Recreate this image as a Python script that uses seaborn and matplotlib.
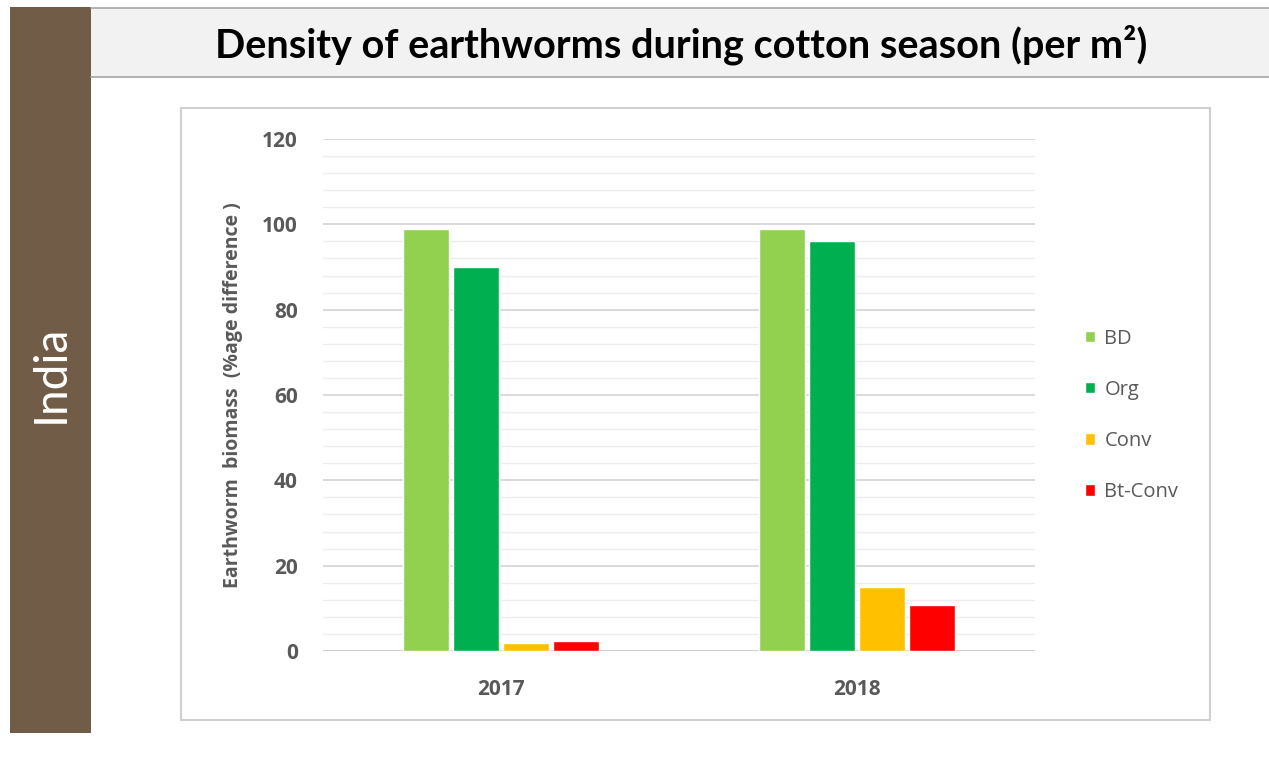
import matplotlib
matplotlib.use("Agg")
import matplotlib.pyplot as plt
from matplotlib.patches import Rectangle
from matplotlib.lines import Line2D
import seaborn as sns
import pandas as pd
import numpy as np

# Earthworm biomass by cotton system and season
years = ["2017", "2018"]
systems = ["BD", "Org", "Conv", "Bt-Conv"]
bd = [99, 99]
org = [90, 96]
conv = [1.8, 15]
bt_conv = [2.3, 10.8]
colors = ["#92D050", "#00B050", "#FFC000", "#FF0000"]

df = pd.DataFrame({
    "year": years * 4,
    "system": [s for s in systems for _ in years],
    "value": bd + org + conv + bt_conv,
})

sns.set_theme(style="white")
plt.rcParams["font.family"] = ["Open Sans", "DejaVu Sans"]

W, H = 1269, 764
fig = plt.figure(figsize=(W / 100, H / 100), dpi=100)
fig.patch.set_facecolor("white")

def fx(x):
    return x / W

def fy(y):
    return 1 - y / H

# Brown side panel with region name
fig.patches.append(Rectangle((fx(10), fy(733)), fx(81), (733 - 7) / H,
                             transform=fig.transFigure, facecolor="#715C48",
                             edgecolor="none", zorder=-2))
fig.text(fx(51), fy(374), "India", rotation=90, color="white", fontsize=33,
         family=["Lato", "DejaVu Sans"], ha="center", va="center")

# Header band
fig.patches.append(Rectangle((fx(91), fy(77)), fx(1269 - 91), (77 - 8) / H,
                             transform=fig.transFigure, facecolor="#F2F2F2",
                             edgecolor="none", zorder=-2))
for yy in (8, 77):
    fig.add_artist(Line2D([fx(91), 1], [fy(yy), fy(yy)], color="#A6A6A6",
                          linewidth=1.2, transform=fig.transFigure, zorder=-1))
fig.text(fx(681), fy(45), "Density of earthworms during cotton season (per m²)",
         fontsize=28.5, fontweight="bold", color="black",
         family=["Lato", "DejaVu Sans"], ha="center", va="center")

# Chart frame
fig.patches.append(Rectangle((fx(181), fy(720)), fx(1210 - 181), (720 - 108) / H,
                             transform=fig.transFigure, facecolor="white",
                             edgecolor="#D0D0D0", linewidth=1.5, zorder=-2))

ax = fig.add_axes([fx(323), fy(651), fx(1035 - 323), (651 - 139) / H])
ax.set_facecolor("none")

sns.barplot(data=df, x="year", y="value", hue="system", hue_order=systems,
            palette=colors, width=0.56, gap=0.08, ax=ax, saturation=1,
            errorbar=None, zorder=3)

ax.set_ylim(0, 120)
ax.set_xlim(-0.5, 1.5)
ax.set_yticks(np.arange(0, 121, 20))
ax.set_yticks(np.arange(0, 121, 4), minor=True)
ax.grid(axis="y", which="major", color="#D9D9D9", linewidth=1.4, zorder=0)
ax.grid(axis="y", which="minor", color="#EDEDED", linewidth=1.0, zorder=0)
ax.grid(axis="x", visible=False)
ax.set_axisbelow(True)
for s in ax.spines.values():
    s.set_visible(False)
ax.axhline(0, color="#D0D0D0", linewidth=1.4, zorder=2)

ax.tick_params(axis="y", which="both", length=0, pad=18, labelsize=15,
               labelcolor="#595959")
ax.tick_params(axis="x", length=0, pad=20, labelsize=15, labelcolor="#595959")
for lab in ax.get_yticklabels() + ax.get_xticklabels():
    lab.set_fontweight("bold")

ax.set_xlabel("")
ax.set_ylabel("Earthworm  biomass  (%age difference )", fontsize=14,
              fontweight="bold", color="#595959", labelpad=14)

sns.move_legend(ax, loc="center left", bbox_to_anchor=(1.045, 0.46),
                frameon=False, title=None, fontsize=14.5, handlelength=0.5,
                handleheight=0.5, handletextpad=0.45, labelspacing=1.55,
                labelcolor="#595959")

fig.savefig("out.png", dpi=100)
